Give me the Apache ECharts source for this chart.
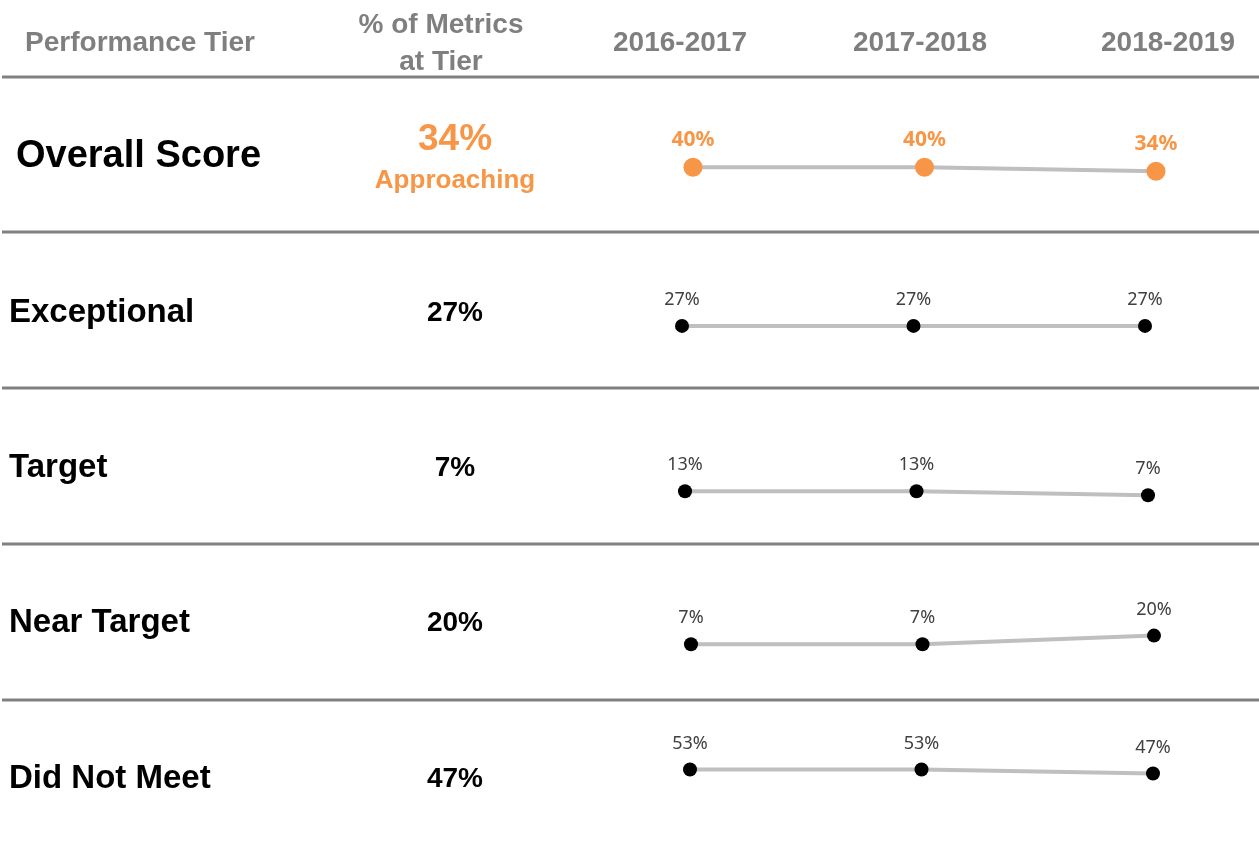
<!DOCTYPE html>
<html>
<head>
<meta charset="utf-8">
<script src="https://cdn.jsdelivr.net/npm/echarts@6/dist/echarts.min.js"></script>
<style>
  html, body { margin: 0; padding: 0; background: #fff; }
  #main { width: 1259px; height: 850px; }
</style>
</head>
<body>
<div id="main"></div>
<script>
// data
var years = ["2016-2017", "2017-2018", "2018-2019"];
var tiers = ["Overall Score", "Exceptional", "Target", "Near Target", "Did Not Meet"];
var currentPct = [34, 27, 7, 20, 47];
var overallStatus = "Approaching";
var overallScore = [40, 40, 34];
var exceptional = [27, 27, 27];
var target = [13, 13, 7];
var nearTarget = [7, 7, 20];
var didNotMeet = [53, 53, 47];
var trends = [overallScore, exceptional, target, nearTarget, didNotMeet];

var myChart = echarts.init(document.getElementById("main"), null, { width: 1259, height: 850 });

var ORANGE = "#F79646";
var HEAD_GREY = "#7F7F7F";
var headFont = 'bold 28px "Liberation Sans", Arial, sans-serif';

// row layout (pixels)
var rowMid = [157, 313, 468, 623, 779];
var gridTop = [127, 277, 433, 582, 738];
var gridLeft = [693, 682, 685, 691, 690];
var sepY = [77, 232, 388, 544, 700];
var yearX = [680, 920, 1168];

var graphics = [];
function txt(s, x, y, font, fill) {
    graphics.push({
        type: "text", x: x, y: y, silent: true,
        style: { text: s, font: font, fill: fill, align: "center", verticalAlign: "middle" }
    });
}

// header
txt("Performance Tier", 140, 43, headFont, HEAD_GREY);
txt("% of Metrics", 441, 25, headFont, HEAD_GREY);
txt("at Tier", 441, 62, headFont, HEAD_GREY);
years.forEach(function (y, i) { txt(y, yearX[i], 43, headFont, HEAD_GREY); });

// separators
sepY.forEach(function (y) {
    graphics.push({
        type: "line", silent: true,
        shape: { x1: 2, y1: y, x2: 1259, y2: y },
        style: { stroke: "#808080", lineWidth: 3 }
    });
});

// row labels + current values
tiers.forEach(function (t, i) {
    if (i === 0) {
        graphics.push({
            type: "text", x: 16, y: rowMid[i], silent: true,
            style: { text: t, font: 'bold 38px "Liberation Sans", Arial, sans-serif', fill: "#000", align: "left", verticalAlign: "middle" }
        });
        txt(currentPct[i] + "%", 455, 140, 'bold 37px "Liberation Sans", Arial, sans-serif', ORANGE);
        txt(overallStatus, 455, 181, 'bold 26px "Liberation Sans", Arial, sans-serif', ORANGE);
    } else {
        graphics.push({
            type: "text", x: 9, y: rowMid[i], silent: true,
            style: { text: t, font: 'bold 33px "Liberation Sans", Arial, sans-serif', fill: "#000", align: "left", verticalAlign: "middle" }
        });
        txt(currentPct[i] + "%", 455, rowMid[i], 'bold 28px "Liberation Sans", Arial, sans-serif', "#000");
    }
});

// sparklines
var grids = [], xAxes = [], yAxes = [], series = [];
trends.forEach(function (vals, i) {
    var first = i === 0;
    grids.push({ left: gridLeft[i], top: gridTop[i], width: 463, height: 67, containLabel: false });
    xAxes.push({ type: "category", gridIndex: i, data: years, boundaryGap: false, show: false });
    yAxes.push({ type: "value", gridIndex: i, min: 0, max: 100, show: false });
    series.push({
        type: "line",
        xAxisIndex: i, yAxisIndex: i,
        data: vals,
        symbol: "circle",
        symbolSize: first ? 19 : 14,
        showSymbol: true,
        lineStyle: { color: "#BFBFBF", width: 4 },
        itemStyle: { color: first ? ORANGE : "#000" },
        label: {
            show: true,
            position: "top",
            distance: first ? 7 : 10,
            formatter: "{c}%",
            color: first ? ORANGE : "#404040",
            fontFamily: "Noto Sans",
            fontWeight: first ? "bold" : "normal",
            fontSize: first ? 21 : 18
        },
        silent: true
    });
});

var option = {
    animation: false,
    backgroundColor: "#fff",
    grid: grids,
    xAxis: xAxes,
    yAxis: yAxes,
    series: series,
    graphic: graphics
};
myChart.setOption(option);
</script>
</body>
</html>
